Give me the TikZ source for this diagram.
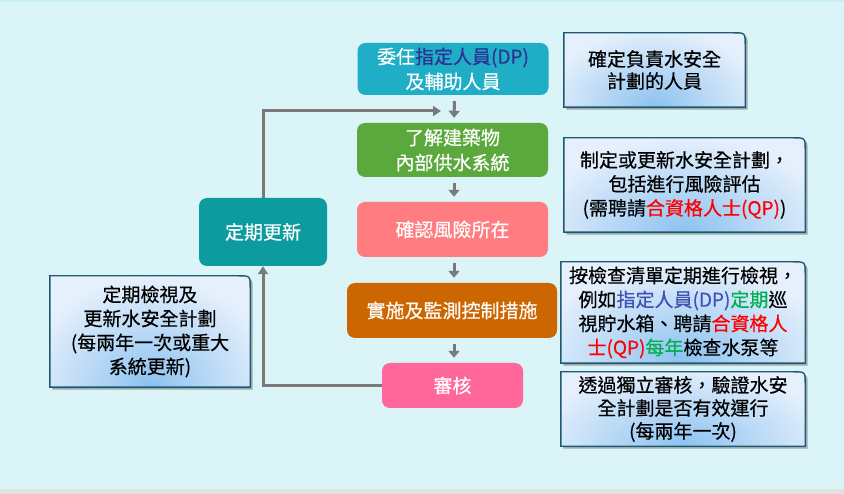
\documentclass[tikz,border=0pt]{standalone}
\usepackage{fontspec}
\setmainfont{Noto Sans CJK TC}[FakeBold=0.45, Script=CJK, Language=Chinese Traditional]
\usetikzlibrary{arrows.meta,calc,backgrounds}
\definecolor{bgc}{HTML}{DBF4F8}
\definecolor{topc}{HTML}{C8EEF5}
\definecolor{botc}{HTML}{E2E2E2}
\definecolor{cone}{HTML}{20AEC7}
\definecolor{ctwo}{HTML}{5BA83C}
\definecolor{cthree}{HTML}{FF7C80}
\definecolor{cfour}{HTML}{CC6600}
\definecolor{cfive}{HTML}{FF6699}
\definecolor{cupd}{HTML}{0C9B9F}
\definecolor{navy}{HTML}{2E3192}
\definecolor{dpblue}{HTML}{3F51B5}
\definecolor{qpred}{HTML}{FF0000}
\definecolor{okgreen}{HTML}{00B050}
\definecolor{arrowgray}{HTML}{7A7A7A}
\definecolor{noteborder}{HTML}{1D5A72}
\definecolor{notebase}{HTML}{E6F0FC}
\definecolor{noteglow}{HTML}{8CC2F0}
\definecolor{shadowc}{HTML}{9AA9AE}
\newcommand\notebox[3]{%
\begin{pgfonlayer}{background}
\fill[shadowc] ([shift={(2.5pt,-2.5pt)}]#1.south west) -- ([shift={(2.5pt,-2.5pt)}]#1.south east) -- ([shift={(2.5pt,-14.5pt)}]#1.north east) .. controls ([shift={(2.5pt,-2.5pt)}]#1.north east) .. ([shift={(-9.5pt,-2.5pt)}]#1.north east) -- ([shift={(2.5pt,-2.5pt)}]#1.north west) -- cycle;
\path[fill=notebase, path picture={\shade[inner color=noteglow, outer color=notebase] (path picture bounding box.south) ellipse [x radius=#2, y radius=#3];}] (#1.south west) -- (#1.south east) -- ([yshift=-12pt]#1.north east) .. controls (#1.north east) .. ([xshift=-12pt]#1.north east) -- (#1.north west) -- cycle;
\draw[noteborder, line width=1.4pt] (#1.south west) -- (#1.south east) -- ([yshift=-12pt]#1.north east) .. controls (#1.north east) .. ([xshift=-12pt]#1.north east) -- (#1.north west) -- cycle;
\end{pgfonlayer}}
\begin{document}
\begin{tikzpicture}[x=1pt,y=-1pt,
  flow/.style={rounded corners=8pt, text=white, inner sep=0pt, align=center, font=\fontsize{19}{25}\selectfont},
  note/.style={inner sep=0pt, align=center, text=black, font=\fontsize{19}{24}\selectfont},
  conn/.style={draw=arrowgray, line width=3pt, -{Triangle[width=10pt,length=8pt]}},
  flowarrow/.style={draw=arrowgray, line width=3pt, -{Triangle[width=11pt,length=7pt]}, shorten <=6pt, shorten >=5pt}]
\useasboundingbox (0,0) rectangle (844,494);
\begin{pgfonlayer}{background}
\fill[bgc] (0,0) rectangle (844,494);
\fill[topc] (0,0) rectangle (844,2.5);
\fill[botc] (0,488.5) rectangle (844,494);
\end{pgfonlayer}
% flow boxes
\node[flow, fill=cone, minimum width=191pt, minimum height=52pt] (b1) at (453,69) {委任{\color{navy}指定人員(DP)}\\及輔助人員};
\node[flow, fill=ctwo, minimum width=191pt, minimum height=54pt] (b2) at (452.5,150) {了解建築物\\內部供水系統};
\node[flow, fill=cthree, minimum width=191pt, minimum height=55pt] (b3) at (452.5,229.5) {確認風險所在};
\node[flow, fill=cfour, minimum width=210pt, minimum height=55pt] (b4) at (452,310.5) {實施及監測控制措施};
\node[flow, fill=cfive, minimum width=141pt, minimum height=45pt] (b5) at (452.5,385.5) {審核};
\node[flow, fill=cupd, minimum width=128pt, minimum height=68pt] (upd) at (263,232) {定期更新};
% notes
\node[note, minimum width=181pt, minimum height=74pt, font=\fontsize{19}{22}\selectfont] (n1) at (654.5,70) {確定負責水安全\\計劃的人員};
\node[note, minimum width=241pt, minimum height=94pt] (n2) at (684.5,185) {制定或更新水安全計劃，\\包括進行風險評估\\(需聘請{\color{qpred}合資格人士(QP)})};
\node[note, minimum width=244pt, minimum height=101pt] (n3) at (683,312.5) {按檢查清單定期進行檢視，\\例如{\color{dpblue}指定人員(DP)}{\color{okgreen}定期}巡\\視貯水箱、聘請{\color{qpred}合資格人}\\{\color{qpred}士(QP)}{\color{okgreen}每年}檢查水泵等};
\node[note, minimum width=244pt, minimum height=74pt, font=\fontsize{19}{23}\selectfont] (n4) at (683,409) {透過獨立審核，驗證水安\\全計劃是否有效運行\\(每兩年一次)};
\node[note, minimum width=200pt, minimum height=111pt] (nl) at (150,331.5) {定期檢視及\\更新水安全計劃\\(每兩年一次或重大\\系統更新)};
\notebox{n1}{110pt}{80pt}
\notebox{n2}{150pt}{95pt}
\notebox{n3}{150pt}{95pt}
\notebox{n4}{150pt}{80pt}
\notebox{nl}{125pt}{110pt}
% connectors
\draw[flowarrow] ([xshift=1.5pt]b1.south) -- ([xshift=1.5pt]b2.north);
\draw[flowarrow] ([xshift=1.5pt]b2.south) -- ([xshift=1.5pt]b3.north);
\draw[flowarrow] ([xshift=1.5pt]b3.south) -- ([xshift=2pt]b4.north);
\draw[flowarrow] ([xshift=2pt]b4.south) -- ([xshift=1.5pt]b5.north);
\draw[conn] (b5.west) -| (upd.south);
\coordinate (entry) at (441,111);
\draw[conn] (upd.north) |- (entry);
\end{tikzpicture}
\end{document}
